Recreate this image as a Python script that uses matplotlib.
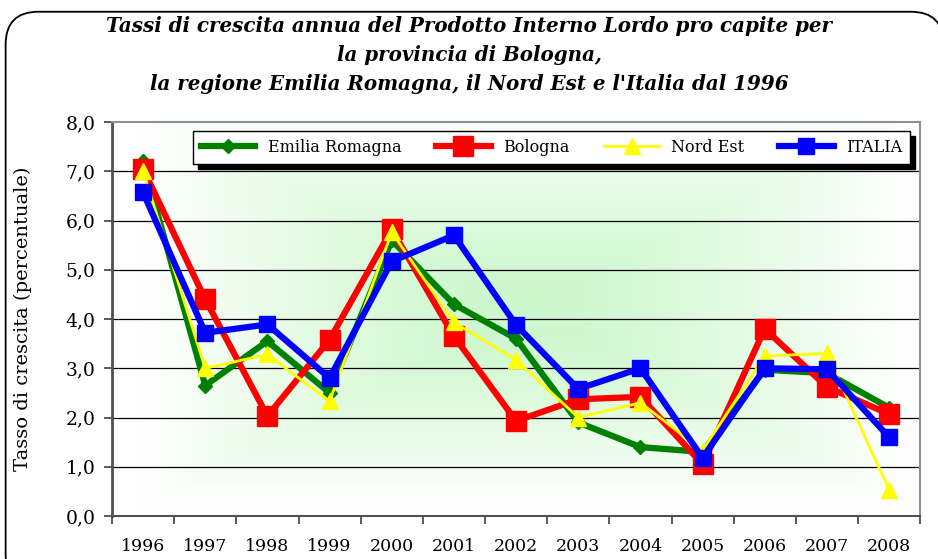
import numpy as np
import matplotlib
matplotlib.use("Agg")
import matplotlib.pyplot as plt
from matplotlib.patches import FancyBboxPatch
from matplotlib.ticker import FuncFormatter, FixedLocator

# data
years = ["1996", "1997", "1998", "1999", "2000", "2001", "2002",
         "2003", "2004", "2005", "2006", "2007", "2008"]
emilia_romagna = [7.2, 2.65, 3.55, 2.5, 5.6, 4.3, 3.6, 1.9, 1.4, 1.3, 2.97, 2.9, 2.2]
bologna = [7.05, 4.4, 2.03, 3.58, 5.82, 3.65, 1.93, 2.37, 2.42, 1.05, 3.8, 2.62, 2.07]
nord_est = [7.0, 3.0, 3.28, 2.33, 5.76, 3.93, 3.17, 2.0, 2.3, 1.33, 3.25, 3.3, 0.53]
italia = [6.57, 3.72, 3.89, 2.8, 5.17, 5.7, 3.88, 2.58, 3.0, 1.18, 3.0, 2.98, 1.6]

title = ("Tassi di crescita annua del Prodotto Interno Lordo pro capite per\n"
         "la provincia di Bologna,\n"
         "la regione Emilia Romagna, il Nord Est e l'Italia dal 1996")

serif = ["DejaVu Serif"]

fig = plt.figure(figsize=(9.38, 5.59), dpi=100)

# rounded outer frame
frame = FancyBboxPatch((0.006, -0.05), 1.0, 1.029, transform=fig.transFigure,
                       boxstyle="round,pad=0,rounding_size=0.035",
                       facecolor="white", edgecolor="black", lw=1.3,
                       mutation_aspect=938 / 559, zorder=-5)
fig.patches.append(frame)

fig.text(0.5, 0.972, title, ha="center", va="top", fontsize=14.3,
         fontweight="bold", style="italic", family=serif, linespacing=1.56)

ax = fig.add_axes([0.1194, 0.0769, 0.8616, 0.7048])
x = np.arange(len(years))

# green "from center" gradient in the plot area
gx = np.linspace(-1, 1, 400)
gy = np.linspace(-1, 1, 300)
GX, GY = np.meshgrid(gx, gy)
d = np.clip(np.maximum(np.abs(GX - 0.02) / 0.95, np.abs(GY + 0.05) / 1.0), 0, 1)
t = d ** 1.3
c0 = np.array([0.80, 0.97, 0.80])
c1 = np.array([1.0, 1.0, 1.0])
img = c0[None, None, :] * (1 - t[..., None]) + c1[None, None, :] * t[..., None]
ax.imshow(img, extent=[-0.5, 12.5, 0, 8], aspect="auto", zorder=0,
          interpolation="bilinear")

for v in range(1, 8):
    ax.axhline(v, color="black", lw=0.9, zorder=1)

ax.plot(x, emilia_romagna, color="#008000", lw=4.5, marker="D", ms=7,
        label="Emilia Romagna", zorder=3)
ax.plot(x, bologna, color="#ff0000", lw=4.5, marker="s", ms=14,
        label="Bologna", zorder=4)
ax.plot(x, nord_est, color="#ffff00", lw=2, marker="^", ms=11,
        label="Nord Est", zorder=5)
ax.plot(x, italia, color="#0000ff", lw=4.5, marker="s", ms=12,
        label="ITALIA", zorder=6)

ax.set_xlim(-0.5, 12.5)
ax.set_ylim(0, 8)
ax.set_yticks(np.arange(0, 9, 1))
ax.yaxis.set_major_formatter(FuncFormatter(lambda v, p: f"{v:.1f}".replace(".", ",")))
ax.set_xticks(x)
ax.set_xticklabels(years)
ax.xaxis.set_minor_locator(FixedLocator(np.arange(-0.5, 13, 1)))
ax.tick_params(axis="x", which="major", length=0, pad=16, labelsize=12.5)
ax.tick_params(axis="x", which="minor", length=6, width=1.2, color="#404040")
ax.tick_params(axis="y", length=6, width=1.2, color="#404040", labelsize=13.5, pad=6)
for lab in ax.get_xticklabels() + ax.get_yticklabels():
    lab.set_family(serif)

for side in ["top", "right"]:
    ax.spines[side].set_color("#909090")
    ax.spines[side].set_linewidth(1.5)
ax.spines["left"].set_color("#505050")
ax.spines["left"].set_linewidth(2)
ax.spines["bottom"].set_color("#505050")
ax.spines["bottom"].set_linewidth(1.5)

ax.set_ylabel("Tasso di crescita (percentuale)", fontsize=14, family=serif,
              labelpad=24)

leg = ax.legend(loc="upper left", bbox_to_anchor=(0.1, 0.896, 0.888, 0.081),
                mode="expand", ncol=4, fancybox=False, framealpha=1,
                edgecolor="black", borderaxespad=0, handlelength=3.4,
                borderpad=0.5,
                prop={"family": serif, "size": 11.5},
                shadow={"color": "black", "alpha": 1, "ox": 3.5, "oy": -3.5})
leg.get_frame().set_linewidth(1)
leg.set_zorder(10)

fig.savefig("out.png", dpi=100)
